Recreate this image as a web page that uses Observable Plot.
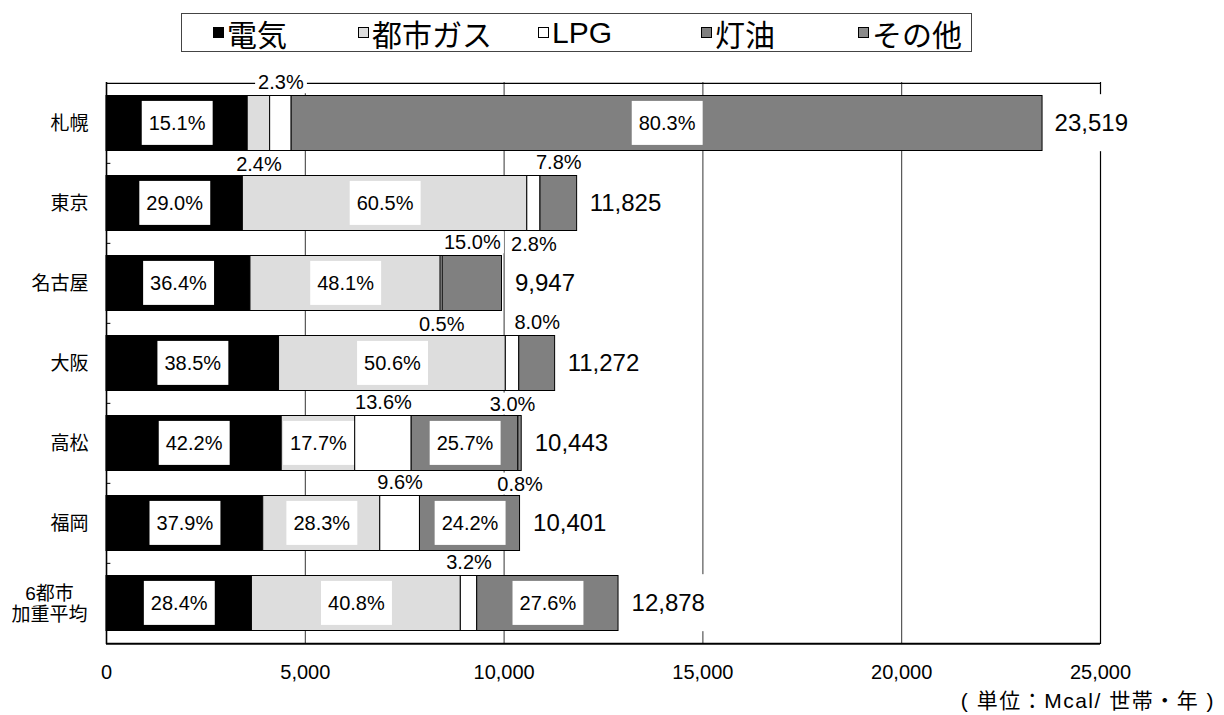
<!DOCTYPE html>
<html>
<head>
<meta charset="utf-8">
<script src="https://cdn.jsdelivr.net/npm/d3@7"></script>
<script src="https://cdn.jsdelivr.net/npm/@observablehq/plot@0.6"></script>
<style>
  body { margin: 0; background: #fff; font-family: "Liberation Sans", "Noto Sans CJK JP", sans-serif; color: #000; }
  #wrap { position: relative; width: 1224px; height: 715px; overflow: hidden; }
  #legend { position: absolute; left: 181px; top: 13px; width: 789px; height: 37px; border: 1px solid #444; background: #fff; }
  .item { position: absolute; top: 0; height: 37px; display: flex; align-items: center; font-size: 30px; white-space: nowrap; }
  .sw { width: 9px; height: 9px; border: 1px solid #000; margin-right: 3px; box-sizing: content-box; }
  #chart { position: absolute; left: 0; top: 60px; }
  #unit { position: absolute; right: 9px; top: 684px; font-size: 21px; letter-spacing: 1.5px; white-space: pre; }
</style>
</head>
<body>
<div id="wrap">
  <div id="legend"></div>
  <div id="chart"></div>
  <div id="unit">( 単位：Mcal/ 世帯・年 )</div>
</div>
<script>
// Household energy consumption by source, per city (Mcal per household per year)
const cities = ["札幌", "東京", "名古屋", "大阪", "高松", "福岡", "6都市\n加重平均"];
const totals = [23519, 11825, 9947, 11272, 10443, 10401, 12878];
const kinds = ["電気", "都市ガス", "LPG", "灯油", "その他"];
// share of each source, in percent
const electricity = [15.1, 29.0, 36.4, 38.5, 42.2, 37.9, 28.4];
const cityGas     = [2.4, 60.5, 48.1, 50.6, 17.7, 28.3, 40.8];
const lpg         = [2.3, 2.8, 0.5, 3.0, 13.6, 9.6, 3.2];
const kerosene    = [80.3, 7.8, 15.0, 8.0, 25.7, 24.2, 27.6];
const other       = [0, 0, 0, 0, 0.8, 0, 0];
const xTicks = [0, 5000, 10000, 15000, 20000, 25000];

const colors = ["#000000", "#dddddd", "#ffffff", "#808080", "#8a8a8a"];
const shares = [electricity, cityGas, lpg, kerosene, other];

// small segments get their label outside the bar, above unless listed here
const labelBelow = new Set(["札幌|都市ガス", "東京|LPG", "名古屋|LPG", "大阪|LPG", "高松|その他"]);

// build stacked segments
const rows = [];
cities.forEach((city, i) => {
  let start = 0;
  kinds.forEach((kind, k) => {
    const pct = shares[k][i];
    if (!pct) return;
    const value = totals[i] * pct / 100;
    const key = city + "|" + kind;
    rows.push({
      city, kind, pct, x0: start, x1: start + value, mid: start + value / 2,
      label: pct.toFixed(1) + "%",
      place: value >= 1600 ? "in" : (labelBelow.has(key) ? "below" : "above")
    });
    start += value;
  });
});
const totalRows = cities.map((city, i) => ({city, total: totals[i]}));

// legend
const legend = document.getElementById("legend");
const legendLeft = [31, 176, 356, 519, 676];
kinds.forEach((k, i) => {
  const it = document.createElement("div");
  it.className = "item";
  it.style.left = legendLeft[i] + "px";
  const sw = document.createElement("span");
  sw.className = "sw";
  sw.style.background = colors[i];
  it.appendChild(sw);
  it.appendChild(document.createTextNode(k));
  legend.appendChild(it);
});

const W = 1224, H = 625, MT = 22, MB = 41, ML = 106, MR = 124;
const step = (H - MT - MB) / cities.length;
const inset = 12.5;
const half = step / 2 - inset;
const font = '"Liberation Sans", "Noto Sans CJK JP", sans-serif';
const fmt = d3.format(",");

// near-black fills tag the label groups that get a white box behind them
const INK_IN = "#010101", INK_OUT = "#020202", INK_TOTAL = "#030303";

const chart = Plot.plot({
  width: W, height: H,
  marginTop: MT, marginBottom: MB, marginLeft: ML, marginRight: MR,
  style: {fontFamily: font, background: "#fff", color: "#000", overflow: "visible"},
  x: {domain: [0, 25000]},
  y: {domain: cities, padding: 0, axis: null},
  color: {domain: kinds, range: colors},
  marks: [
    // gridlines and frame
    Plot.ruleX([5000, 10000, 15000, 20000], {stroke: "#000", strokeWidth: 0.8}),
    Plot.ruleX([25000], {stroke: "#000", strokeWidth: 1.2}),
    Plot.ruleY([cities[0]], {dy: -step / 2, stroke: "#000", strokeWidth: 1.4}),
    Plot.ruleY(cities.slice(1), {x1: 0, x2: 110, dy: -step / 2, stroke: "#000", strokeWidth: 1}),
    Plot.ruleX([0], {stroke: "#000", strokeWidth: 1.6}),
    Plot.ruleY([cities[cities.length - 1]], {dy: step / 2, stroke: "#000", strokeWidth: 2}),
    // stacked bars
    Plot.barX(rows, {
      x1: "x0", x2: "x1", y: "city", fill: "kind",
      stroke: "#000", strokeWidth: 1, insetTop: inset, insetBottom: inset
    }),
    // percentage labels
    Plot.text(rows.filter(d => d.place === "in"), {
      x: "mid", y: "city", text: "label", fontSize: 20, fill: INK_IN
    }),
    Plot.text(rows.filter(d => d.place === "above"), {
      x: "mid", y: "city", text: "label", dy: -(half + 13), fontSize: 20, fill: INK_OUT
    }),
    Plot.text(rows.filter(d => d.place === "below"), {
      x: "mid", y: "city", text: "label", dy: half + 13, fontSize: 20, fill: INK_OUT
    }),
    // totals
    Plot.text(totalRows, {
      x: "total", y: "city", text: d => fmt(d.total), dx: 13,
      textAnchor: "start", fontSize: 24, fill: INK_TOTAL
    }),
    // category labels
    Plot.text(cities.filter(c => !c.includes("\n")), {
      frameAnchor: "left", y: d => d, text: d => d, dx: -18, textAnchor: "end", fontSize: 19, fill: "#000"
    }),
    Plot.text(cities.filter(c => c.includes("\n")), {
      frameAnchor: "left", y: d => d, text: d => d, dx: -57, textAnchor: "middle", fontSize: 19, lineHeight: 1.15, fill: "#000"
    }),
    Plot.axisX({ticks: xTicks, tickFormat: d => fmt(d), tickSize: 0, tickPadding: 20, fontSize: 20, fill: "#000"})
  ]
});

document.getElementById("chart").appendChild(chart);

// white boxes behind the value labels
function boxLabels(ink, px, py) {
  chart.querySelectorAll("text").forEach(t => {
    const f = (t.getAttribute("fill") || t.parentNode.getAttribute("fill") || "").toLowerCase();
    if (f !== ink) return;
    const b = t.getBBox();
    const r = document.createElementNS("http://www.w3.org/2000/svg", "rect");
    r.setAttribute("x", b.x - px);
    r.setAttribute("y", b.y - py);
    r.setAttribute("width", b.width + 2 * px);
    r.setAttribute("height", b.height + 2 * py);
    r.setAttribute("fill", "#fff");
    r.setAttribute("stroke", "none");
    const tr = t.getAttribute("transform");
    if (tr) r.setAttribute("transform", tr);
    t.parentNode.insertBefore(r, t);
  });
}
boxLabels(INK_IN, 7, 11);
boxLabels(INK_OUT, 3, 0);
boxLabels(INK_TOTAL, 4, 15);
</script>
</body>
</html>
